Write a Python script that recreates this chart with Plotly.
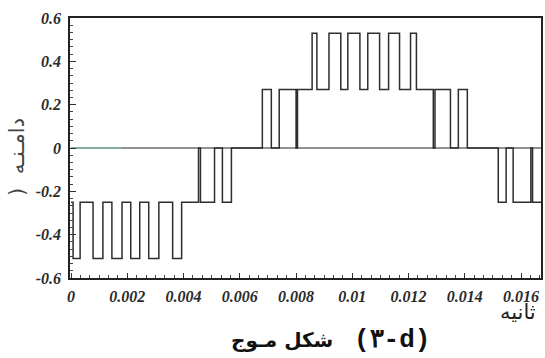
import plotly.graph_objects as go

# switching instants (s) and the level held after each instant
t_switch = [0, 0.00007, 0.00032, 0.00078, 0.00113, 0.00145, 0.00181, 0.00212, 0.00244,
            0.00276, 0.00312, 0.00361, 0.00393, 0.00453, 0.00460, 0.00510, 0.00538, 0.00570,
            0.00680, 0.00712, 0.00740, 0.00800, 0.00805, 0.00857, 0.00874, 0.00917, 0.00959,
            0.00984, 0.01027, 0.01055, 0.01097, 0.01129, 0.01168, 0.01207, 0.01228, 0.01288,
            0.01294, 0.01349, 0.01377, 0.01409, 0.01519, 0.01547, 0.01572, 0.01635, 0.01641,
            0.01671]
levels = [-0.25, -0.51, -0.25, -0.51, -0.25, -0.51, -0.25, -0.51, -0.25, -0.51, -0.25, -0.51,
          -0.25, 0, -0.25, 0, -0.25, 0, 0.27, 0, 0.27, 0, 0.27, 0.53, 0.27, 0.53, 0.27, 0.53,
          0.27, 0.53, 0.27, 0.53, 0.27, 0.53, 0.27, 0, 0.27, 0, 0.27, 0, -0.25, 0, -0.25, 0,
          -0.25, -0.25]

zero_ref_t = [0, 0.01671]
zero_ref_v = [0, 0]
zero_tint_t = [0, 0.0018]
zero_tint_v = [0, 0]

y_ticks = [-0.6, -0.4, -0.2, 0, 0.2, 0.4, 0.6]
y_tick_text = ["-0.6", "-0.4", "-0.2", "0", "0.2", "0.4", "0.6"]
x_ticks = [0, 0.002, 0.004, 0.006, 0.008, 0.01, 0.012, 0.014, 0.016]
x_tick_text = ["0", "0.002", "0.004", "0.006", "0.008", "0.01", "0.012", "0.014", "0.016"]


def bi(labels):
    return ["<b><i>" + s + "</i></b>" for s in labels]


fig = go.Figure()
fig.add_trace(go.Scatter(x=zero_ref_t, y=zero_ref_v, mode="lines",
                         line=dict(color="#6e6e6e", width=1.3), hoverinfo="skip"))
fig.add_trace(go.Scatter(x=zero_tint_t, y=zero_tint_v, mode="lines",
                         line=dict(color="#7fb5a8", width=1.3), hoverinfo="skip"))
fig.add_trace(go.Scatter(x=t_switch, y=levels, mode="lines", line_shape="hv",
                         line=dict(color="#2e2e2e", width=1.5)))

tick_font = dict(family="Liberation Serif", size=16, color="#2a2a2a")

fig.update_layout(
    width=545, height=358,
    margin=dict(l=70, r=2, t=18, b=80),
    paper_bgcolor="white", plot_bgcolor="white",
    showlegend=False,
    xaxis=dict(range=[-0.00004, 0.01671], tickvals=x_ticks, ticktext=bi(x_tick_text),
               ticks="inside", ticklen=5, tickcolor="#333", showgrid=False, zeroline=False,
               showline=True, linecolor="#222", linewidth=1.6, mirror=True,
               tickfont=tick_font, ticklabelstandoff=3,
               minor=dict(dtick=0.002 / 6, ticks="inside", ticklen=3, tickcolor="#444")),
    yaxis=dict(range=[-0.6, 0.6], tickvals=y_ticks, ticktext=bi(y_tick_text),
               ticks="inside", ticklen=6, tickcolor="#333", showgrid=False, zeroline=False,
               showline=True, linecolor="#222", linewidth=1.6, mirror=True,
               tickfont=tick_font, ticklabelstandoff=4,
               minor=dict(dtick=0.2 / 6, ticks="inside", ticklen=3, tickcolor="#444")),
    annotations=[
        dict(text=")\u00a0 دامـنـه", xref="paper", yref="paper",
             x=-0.113, y=0.465, textangle=-90, showarrow=False, xanchor="center", yanchor="middle",
             font=dict(family="DejaVu Sans", size=21, color="#444")),
        dict(text="ثانیه", xref="paper", yref="paper", x=0.951, y=-0.132, showarrow=False,
             xanchor="center", yanchor="middle",
             font=dict(family="DejaVu Sans", size=21, color="#222")),
        dict(text="شکل مـوج", xref="paper", yref="paper", x=0.450, y=-0.238, showarrow=False,
             xanchor="center", yanchor="middle",
             font=dict(family="DejaVu Sans", size=20, weight="bold", color="#111")),
        dict(text="(۳-d)", xref="paper", yref="paper", x=0.683, y=-0.238, showarrow=False,
             xanchor="center", yanchor="middle",
             font=dict(family="Liberation Mono", size=26, weight="bold", color="#111")),
    ],
)

fig.write_html("out.html")
